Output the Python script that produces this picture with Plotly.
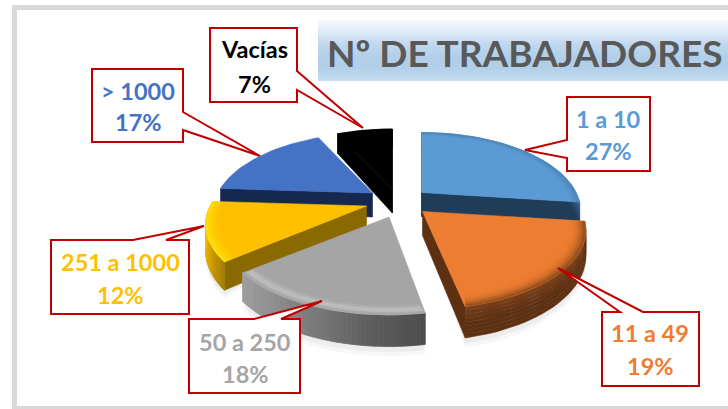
import math
import plotly.graph_objects as go

categories = ["1 a 10", "11 a 49", "50 a 250", "251 a 1000", "> 1000", "Vacías"]
values = [27, 19, 18, 12, 17, 7]
top_colors = ["#5b9bd5", "#ed7d31", "#a5a5a5", "#ffc000", "#4472c4", "#000000"]
label_colors = ["#5b9bd5", "#ed7d31", "#a5a5a5", "#ffc000", "#4472c4", "#000000"]
title_text = "Nº DE TRABAJADORES"

# --- layout geometry (perspective pie, axes are in page pixels) ---
W, H = 728, 409
RX, RY, K, DEPTH = 161, 74.4, 0.24, 24
apex = {"1 a 10": (421.5, 192.5), "11 a 49": (422.5, 211.5), "50 a 250": (389, 217),
        "251 a 1000": (366.5, 206), "> 1000": (372.5, 193), "Vacías": (392.3, 189)}
rx_scale = {"1 a 10": 0.96, "11 a 49": 0.985, "50 a 250": 1.0, "251 a 1000": 0.97, "> 1000": 0.96, "Vacías": 0.97}
# small per-slice perspective correction of the drawn edges, in degrees
edge_adjust = {"11 a 49": (0, 2.5), "50 a 250": (4.5, 0)}
wall_dark = {"1 a 10": "#1f3d58", "11 a 49": "#5e3012", "251 a 1000": "#8a6a00",
             "> 1000": "#15284f", "Vacías": "#000000"}
# which radial walls show: 0 = start edge, 1 = end edge
radial_walls = {"1 a 10": [0, 1], "11 a 49": [1], "50 a 250": [], "251 a 1000": [0],
                "> 1000": [0], "Vacías": [0, 1]}
draw_order = ["Vacías", "> 1000", "251 a 1000", "50 a 250", "1 a 10", "11 a 49"]


def lerp_hex(a, b, t):
    ca = [int(a[i:i + 2], 16) for i in (1, 3, 5)]
    cb = [int(b[i:i + 2], 16) for i in (1, 3, 5)]
    return "#%02x%02x%02x" % tuple(round(p + (q - p) * t) for p, q in zip(ca, cb))


def ramp(stops, t):
    t = max(0, min(1, t))
    n = len(stops) - 1
    i = min(int(t * n), n - 1)
    return lerp_hex(stops[i], stops[i + 1], t * n - i)


def pt(name, theta_deg, r=1.0, d=0.0):
    th = math.radians(theta_deg)
    s = 1 / (1 + K * r * math.cos(th))
    ax, ay = apex[name]
    return ax + RX * rx_scale[name] * r * math.sin(th) * s, ay - RY * r * math.cos(th) * s + d * s


def poly(points, color, opacity=None, lw=0.6):
    xs = [p[0] for p in points] + [points[0][0]]
    ys = [p[1] for p in points] + [points[0][1]]
    return go.Scatter(x=xs, y=ys, mode="lines", fill="toself", fillcolor=color,
                      line=dict(color=color, width=lw), opacity=opacity,
                      hoverinfo="skip", showlegend=False)


def arc(name, a, b, r=1.0, d=0.0, n=30):
    return [pt(name, a + (b - a) * i / n, r, d) for i in range(n + 1)]


spans = {}
acc = 0.0
for c, v in zip(categories, values):
    da, db = edge_adjust.get(c, (0, 0))
    spans[c] = (acc + da, acc + v * 3.6 + db)
    acc += v * 3.6


def strip_color(name, u):
    """Wall colour along the arc (u = 0 at the start angle, 1 at the end)."""
    if name == "50 a 250":
        return ramp(["#4c4c4c", "#5e5e5e", "#787878", "#8f8f8f", "#9e9e9e"], u)
    if name == "251 a 1000":
        return ramp(["#a07c00", "#d9a500", "#f5bb00", "#ffc800"], u)
    return "#000000"


bevels = {
    "50 a 250": ["#a5a5a5", "#a6a6a6", "#c4c4c4", "#a0a0a0"],
    "11 a 49": ["#ed7d31", "#e87a30", "#c96a28", "#8a4a1c"],
    "251 a 1000": ["#ffc000", "#ffc000", "#ffcf00", "#ffdd10"],
    "1 a 10": ["#5b9bd5", "#5b9bd5", "#5793c9", "#4c84b5"],
}
band_walls = {"11 a 49": ["#7a3f18", "#5e3012", "#5e3012"], "1 a 10": ["#3f6f9c", "#1f3d58"],
              "Vacías": ["#000000", "#000000"]}

fig = go.Figure()

# soft ground shadow under the front slices
for name in ["50 a 250", "11 a 49", "251 a 1000"]:
    a, b = spans[name]
    for grow, alpha in ((7, 0.06), (4, 0.08)):
        pts = arc(name, a, b, 1.0, DEPTH + grow) + [(apex[name][0], apex[name][1])]
        fig.add_trace(poly(pts, "#808080", alpha))

for name in draw_order:
    a, b = spans[name]
    col = top_colors[categories.index(name)]
    # radial walls
    for w in radial_walls[name]:
        th = a if w == 0 else b
        ax, ay = apex[name]
        o = pt(name, th)
        o2 = pt(name, th, 1.0, DEPTH)
        fig.add_trace(poly([(ax, ay), o, o2, (ax, ay + DEPTH)], wall_dark[name]))
    # outer rim wall
    if name in ("50 a 250", "251 a 1000"):
        nu = 48
        for i in range(nu):
            t0, t1 = a + (b - a) * i / nu, a + (b - a) * (i + 1) / nu
            fig.add_trace(poly([pt(name, t0), pt(name, t1), pt(name, t1, 1, DEPTH), pt(name, t0, 1, DEPTH)],
                               strip_color(name, (i + .5) / nu), lw=0.8))
    elif name in band_walls:
        stops = band_walls[name]
        nv = 8
        for j in range(nv):
            top = arc(name, a, b, 1, DEPTH * j / nv)
            bot = arc(name, a, b, 1, DEPTH * (j + 1) / nv)
            fig.add_trace(poly(top + bot[::-1], ramp(stops, (j + .5) / nv)))
    # top face
    fig.add_trace(poly([apex[name]] + arc(name, a, b), col))
    # bevel band
    if name in bevels:
        stops = bevels[name]
        nb = 6
        for j in range(nb):
            r0, r1 = 0.90 + 0.10 * j / nb, 0.90 + 0.10 * (j + 1) / nb
            c = ramp(stops, (j + .5) / nb)
            tm = (b - a) * 0.02
            inner = arc(name, a + tm * (1 - j / nb), b - tm * (1 - j / nb), r0, 0, 24)
            outer = arc(name, a + tm * (1 - j / nb), b - tm * (1 - j / nb), r1, 0, 24)
            fig.add_trace(poly(outer + inner[::-1], c))

# --- page furniture ---
shapes = []
GRAY = "#d9d9d9"
for x0, y0, x1, y1 in [(12, 5, W, 10), (12, 5, 17, H), (12, 406, W, H)]:
    shapes.append(dict(type="rect", x0=x0, y0=y0, x1=x1, y1=y1, fillcolor=GRAY,
                       line=dict(width=0), layer="below"))
TB = (318, 20, 728, 81)
rows = TB[3] - TB[1]
for i in range(rows):
    t = i / (rows - 1)
    c = ramp(["#f5f9fd", "#dce9f6", "#c0d8ee", "#b2cfea", "#b2cfea", "#c6dcf0"], t)
    shapes.append(dict(type="rect", x0=TB[0], x1=TB[2], y0=TB[1] + i, y1=TB[1] + i + 1,
                       fillcolor=c, line=dict(width=0), layer="below"))

callouts = {
    "Vacías": [(210, 28), (297, 28), (297, 71), (363, 128), (297, 90), (297, 102), (210, 102)],
    "> 1000": [(92, 69), (183, 69), (183, 112), (260, 156), (183, 130), (183, 142), (92, 142)],
    "1 a 10": [(567, 97), (650, 97), (650, 171), (567, 171), (567, 158), (525, 150), (567, 140)],
    "11 a 49": [(602, 312), (620, 312), (558, 268), (643, 312), (699, 312), (699, 386), (602, 386)],
    "50 a 250": [(189, 319), (254, 319), (322, 301), (281, 319), (300, 319), (300, 393), (189, 393)],
    "251 a 1000": [(51, 240), (133, 240), (204, 226), (166, 240), (189, 240), (189, 314), (51, 314)],
}
for name, pts in callouts.items():
    path = "M " + " L ".join(f"{x},{y}" for x, y in pts) + " Z"
    shapes.append(dict(type="path", path=path, fillcolor="#ffffff",
                       line=dict(color="#c00000", width=2), layer="above"))

label_pos = {"Vacías": (254, 49, 84), "> 1000": (138, 91, 122), "1 a 10": (608, 119, 151),
             "11 a 49": (650, 333, 366), "50 a 250": (245, 342, 374), "251 a 1000": (120, 262, 295)}
FONT = "Lato, 'Open Sans', sans-serif"
annotations = []
for c, v, col in zip(categories, values, label_colors):
    x, y1, y2 = label_pos[c]
    for txt, y in ((c, y1), (f"{v}%", y2)):
        annotations.append(dict(x=x, y=y, xref="x", yref="y", text=f"<b>{txt}</b>", showarrow=False,
                                font=dict(family=FONT, size=23.5, color=col),
                                xanchor="center", yanchor="middle"))
annotations.append(dict(x=524.5, y=52, xref="x", yref="y", text=f"<b>{title_text}</b>", showarrow=False,
                        font=dict(family=FONT, size=37, color="#595959"),
                        xanchor="center", yanchor="middle"))

fig.update_layout(
    width=W, height=H, margin=dict(l=0, r=0, t=0, b=0),
    paper_bgcolor="#ffffff", plot_bgcolor="#ffffff", showlegend=False,
    xaxis=dict(range=[0, W], visible=False, fixedrange=True),
    yaxis=dict(range=[H, 0], visible=False, fixedrange=True),
    shapes=shapes, annotations=annotations,
)
fig.write_html("out.html", config={"displayModeBar": False},
               post_script="document.body.style.margin='0';document.body.style.overflow='hidden';")
